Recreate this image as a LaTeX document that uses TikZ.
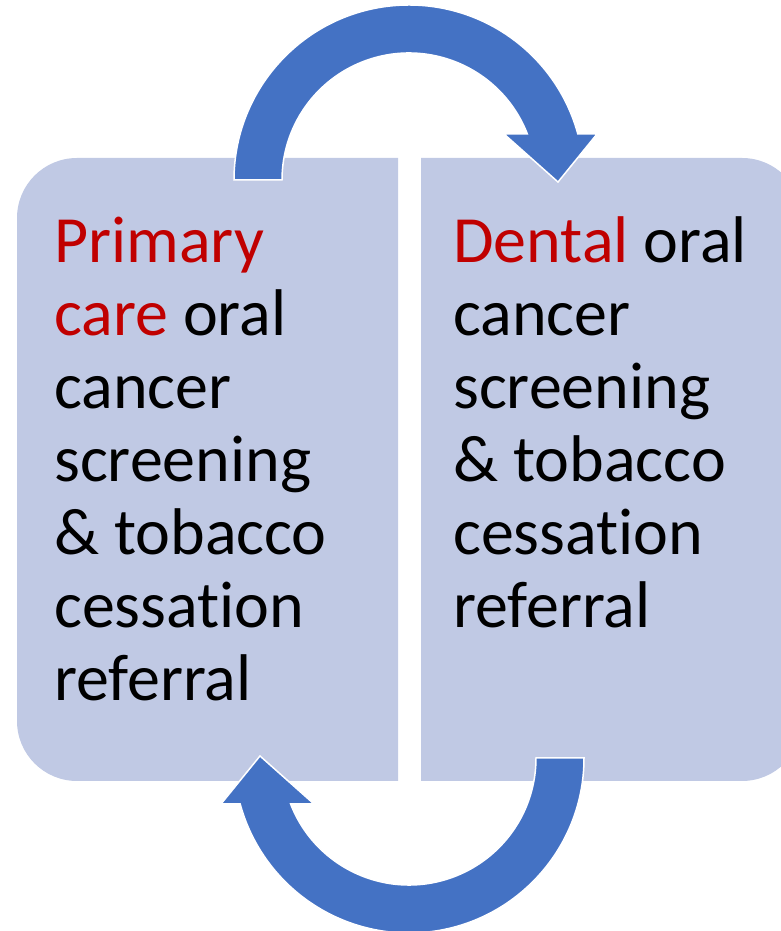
\documentclass[tikz,border=0pt]{standalone}
\usepackage{fontspec}
\setmainfont[Ligatures={NoCommon}]{Carlito}
\definecolor{boxfill}{RGB}{192,201,228}
\definecolor{arrowblue}{RGB}{68,114,196}
\definecolor{darkred}{RGB}{192,0,0}
\tikzset{
  boxshape/.style={fill=boxfill},
  curvedarrow/.style={fill=arrowblue, draw=white, line width=1.5pt, line join=miter},
  linetext/.style={anchor=base west, inner sep=0pt, font=\fontsize{66}{73}\selectfont}
}
\begin{document}
\begin{tikzpicture}[x=1pt,y=1pt]
\useasboundingbox (0,0) rectangle (781,931);
\clip (0,0) rectangle (781,931);
% boxes
\fill[boxshape] (398,150) -- (398,773) -- (77,773) arc[start angle=90,end angle=180,radius=60]
  -- (17,210) arc[start angle=180,end angle=270,radius=60] -- cycle;
\fill[boxshape] (421,150) -- (421,773) -- (742,773) arc[start angle=90,end angle=0,radius=60]
  -- (802,210) arc[start angle=0,end angle=-90,radius=60] -- cycle;
% top curved arrow
\path[curvedarrow] (234,751) arc[start angle=180,end angle=15.24,radius=175]
  -- (597,797) -- (558,749) -- (504,797) -- ({409+127*cos(21.24)},797)
  arc[start angle=21.24,end angle=180,radius=127] -- cycle;
% bottom curved arrow (rotated copy)
\path[curvedarrow, rotate around={180:(409,462)}] (234,751) arc[start angle=180,end angle=15.24,radius=175]
  -- (597,797) -- (558,749) -- (504,797) -- ({409+127*cos(21.24)},797)
  arc[start angle=21.24,end angle=180,radius=127] -- cycle;
% left text
\node[linetext] (l1) at (54,668) {\textcolor{darkred}{Primary}};
\node[linetext] (l2) at (54,595) {\textcolor{darkred}{care} oral};
\node[linetext] (l3) at (54,522) {cancer};
\node[linetext] (l4) at (54,449) {screening};
\node[linetext] (l5) at (54,376) {\& tobacco};
\node[linetext] (l6) at (54,303) {cessation};
\node[linetext] (l7) at (54,230) {referral};
% right text
\node[linetext] (r1) at (453,668) {\textcolor{darkred}{Dental} oral};
\node[linetext] (r2) at (453,595) {cancer};
\node[linetext] (r3) at (453,522) {screening};
\node[linetext] (r4) at (453,449) {\& tobacco};
\node[linetext] (r5) at (453,376) {cessation};
\node[linetext] (r6) at (453,303) {referral};
\end{tikzpicture}
\end{document}
